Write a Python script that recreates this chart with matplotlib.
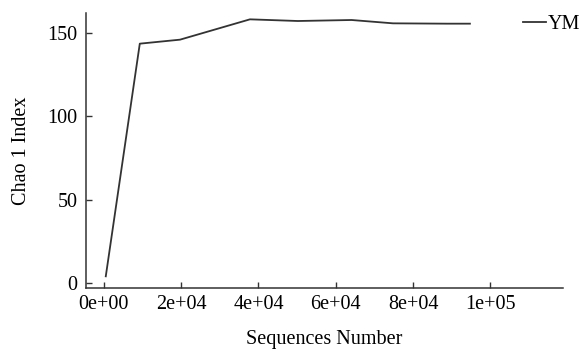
import matplotlib
matplotlib.use("Agg")
import matplotlib.pyplot as plt

plt.rcParams['font.family'] = ['Liberation Serif', 'DejaVu Serif']

seqs = [500, 9300, 19700, 37800, 50200, 64100, 74800, 88700, 94700]
chao1 = [4, 143.6, 146.0, 158.2, 157.2, 157.8, 155.8, 155.6, 155.6]
xticks = [0, 20000, 40000, 60000, 80000, 100000]
xticklabels = ['0e+00', '2e+04', '4e+04', '6e+04', '8e+04', '1e+05']
yticks = [0, 50, 100, 150]

fig = plt.figure(figsize=(5.8, 3.51), dpi=100)
ax = fig.add_axes([0.148, 0.1786, 0.822, 0.7834])
ax.plot(seqs, chao1, color='#333333', lw=1.3, label='YM')
ax.set_xlim(-4657, 118680)
ax.set_ylim(-3.2, 161.8)
ax.set_xticks(xticks)
ax.set_xticklabels(xticklabels)
ax.set_yticks(yticks)
for s in ['top', 'right']:
    ax.spines[s].set_visible(False)
for s in ['left', 'bottom']:
    ax.spines[s].set_linewidth(1.1)
    ax.spines[s].set_color('#333333')
ax.tick_params(direction='in', length=4.5, width=1.0, color='#333333', labelsize=14.5)
ax.tick_params(axis='y', pad=6)
ax.tick_params(axis='x', pad=5)
ax.set_xlabel('Sequences Number', fontsize=14.5, labelpad=11)
ax.set_ylabel('Chao 1 Index', fontsize=14.5, labelpad=12)
ax.legend(loc='center left', bbox_to_anchor=(0.885, 0.93), bbox_transform=fig.transFigure,
          frameon=False, fontsize=14.5, handlelength=1.1, handletextpad=0.1, borderpad=0)
fig.savefig('out.png', dpi=100)
